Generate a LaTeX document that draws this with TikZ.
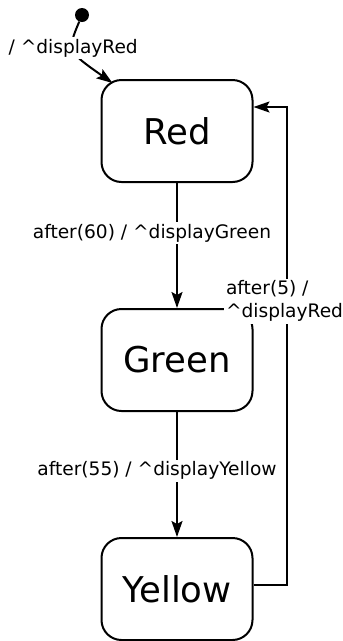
\documentclass[tikz,border=0pt]{standalone}
\usepackage{fontspec}
\setmainfont{DejaVu Sans}
\usetikzlibrary{arrows.meta,calc}
\usepackage{tkz-euclide}

\tikzset{
  state/.style={draw,line width=2pt,rounded corners=20pt,minimum width=151pt,
    minimum height=102pt,font=\fontsize{35.5}{42}\selectfont},
  trans/.style={line width=2pt,-{Stealth[length=16pt,width=11pt,inset=3pt]}},
  event/.style={fill=white,inner sep=2pt,font=\fontsize{18.6}{23}\selectfont}
}

\begin{document}
\begin{tikzpicture}[x=1pt,y=-1pt]
\useasboundingbox (0,0) rectangle (343,641);

\tkzDefPoints{82/15/I,177/131/R,177/360/G,177/589/Y,287/585/K,287/107/B}

\node[circle,fill,inner sep=0pt,minimum size=14pt] (init) at (I) {};
\node[state] (red) at (R) {Red};
\node[state] (green) at (G) {Green};
\node[state] (yellow) at (Y) {Yellow};

\draw[trans] (init) .. controls (67,51) .. ([shift={(12,4)}]red.north west)
  node[event,pos=0.45,yshift=1pt] {/ \textasciicircum displayRed};
\draw[trans] (red) -- node[event,pos=0.4,xshift=-25pt] {after(60) / \textasciicircum displayGreen} (green);
\draw[trans] (green) -- node[event,pos=0.47,xshift=-20pt] {after(55) / \textasciicircum displayYellow} (yellow);
\draw[trans] ([yshift=4pt]yellow.east) -- (K)
  -- node[event,pos=0.594,anchor=west,xshift=-64pt,align=left] {after(5) /\\\textasciicircum displayRed} (B)
  -- (red.east |- B);

\end{tikzpicture}
\end{document}
